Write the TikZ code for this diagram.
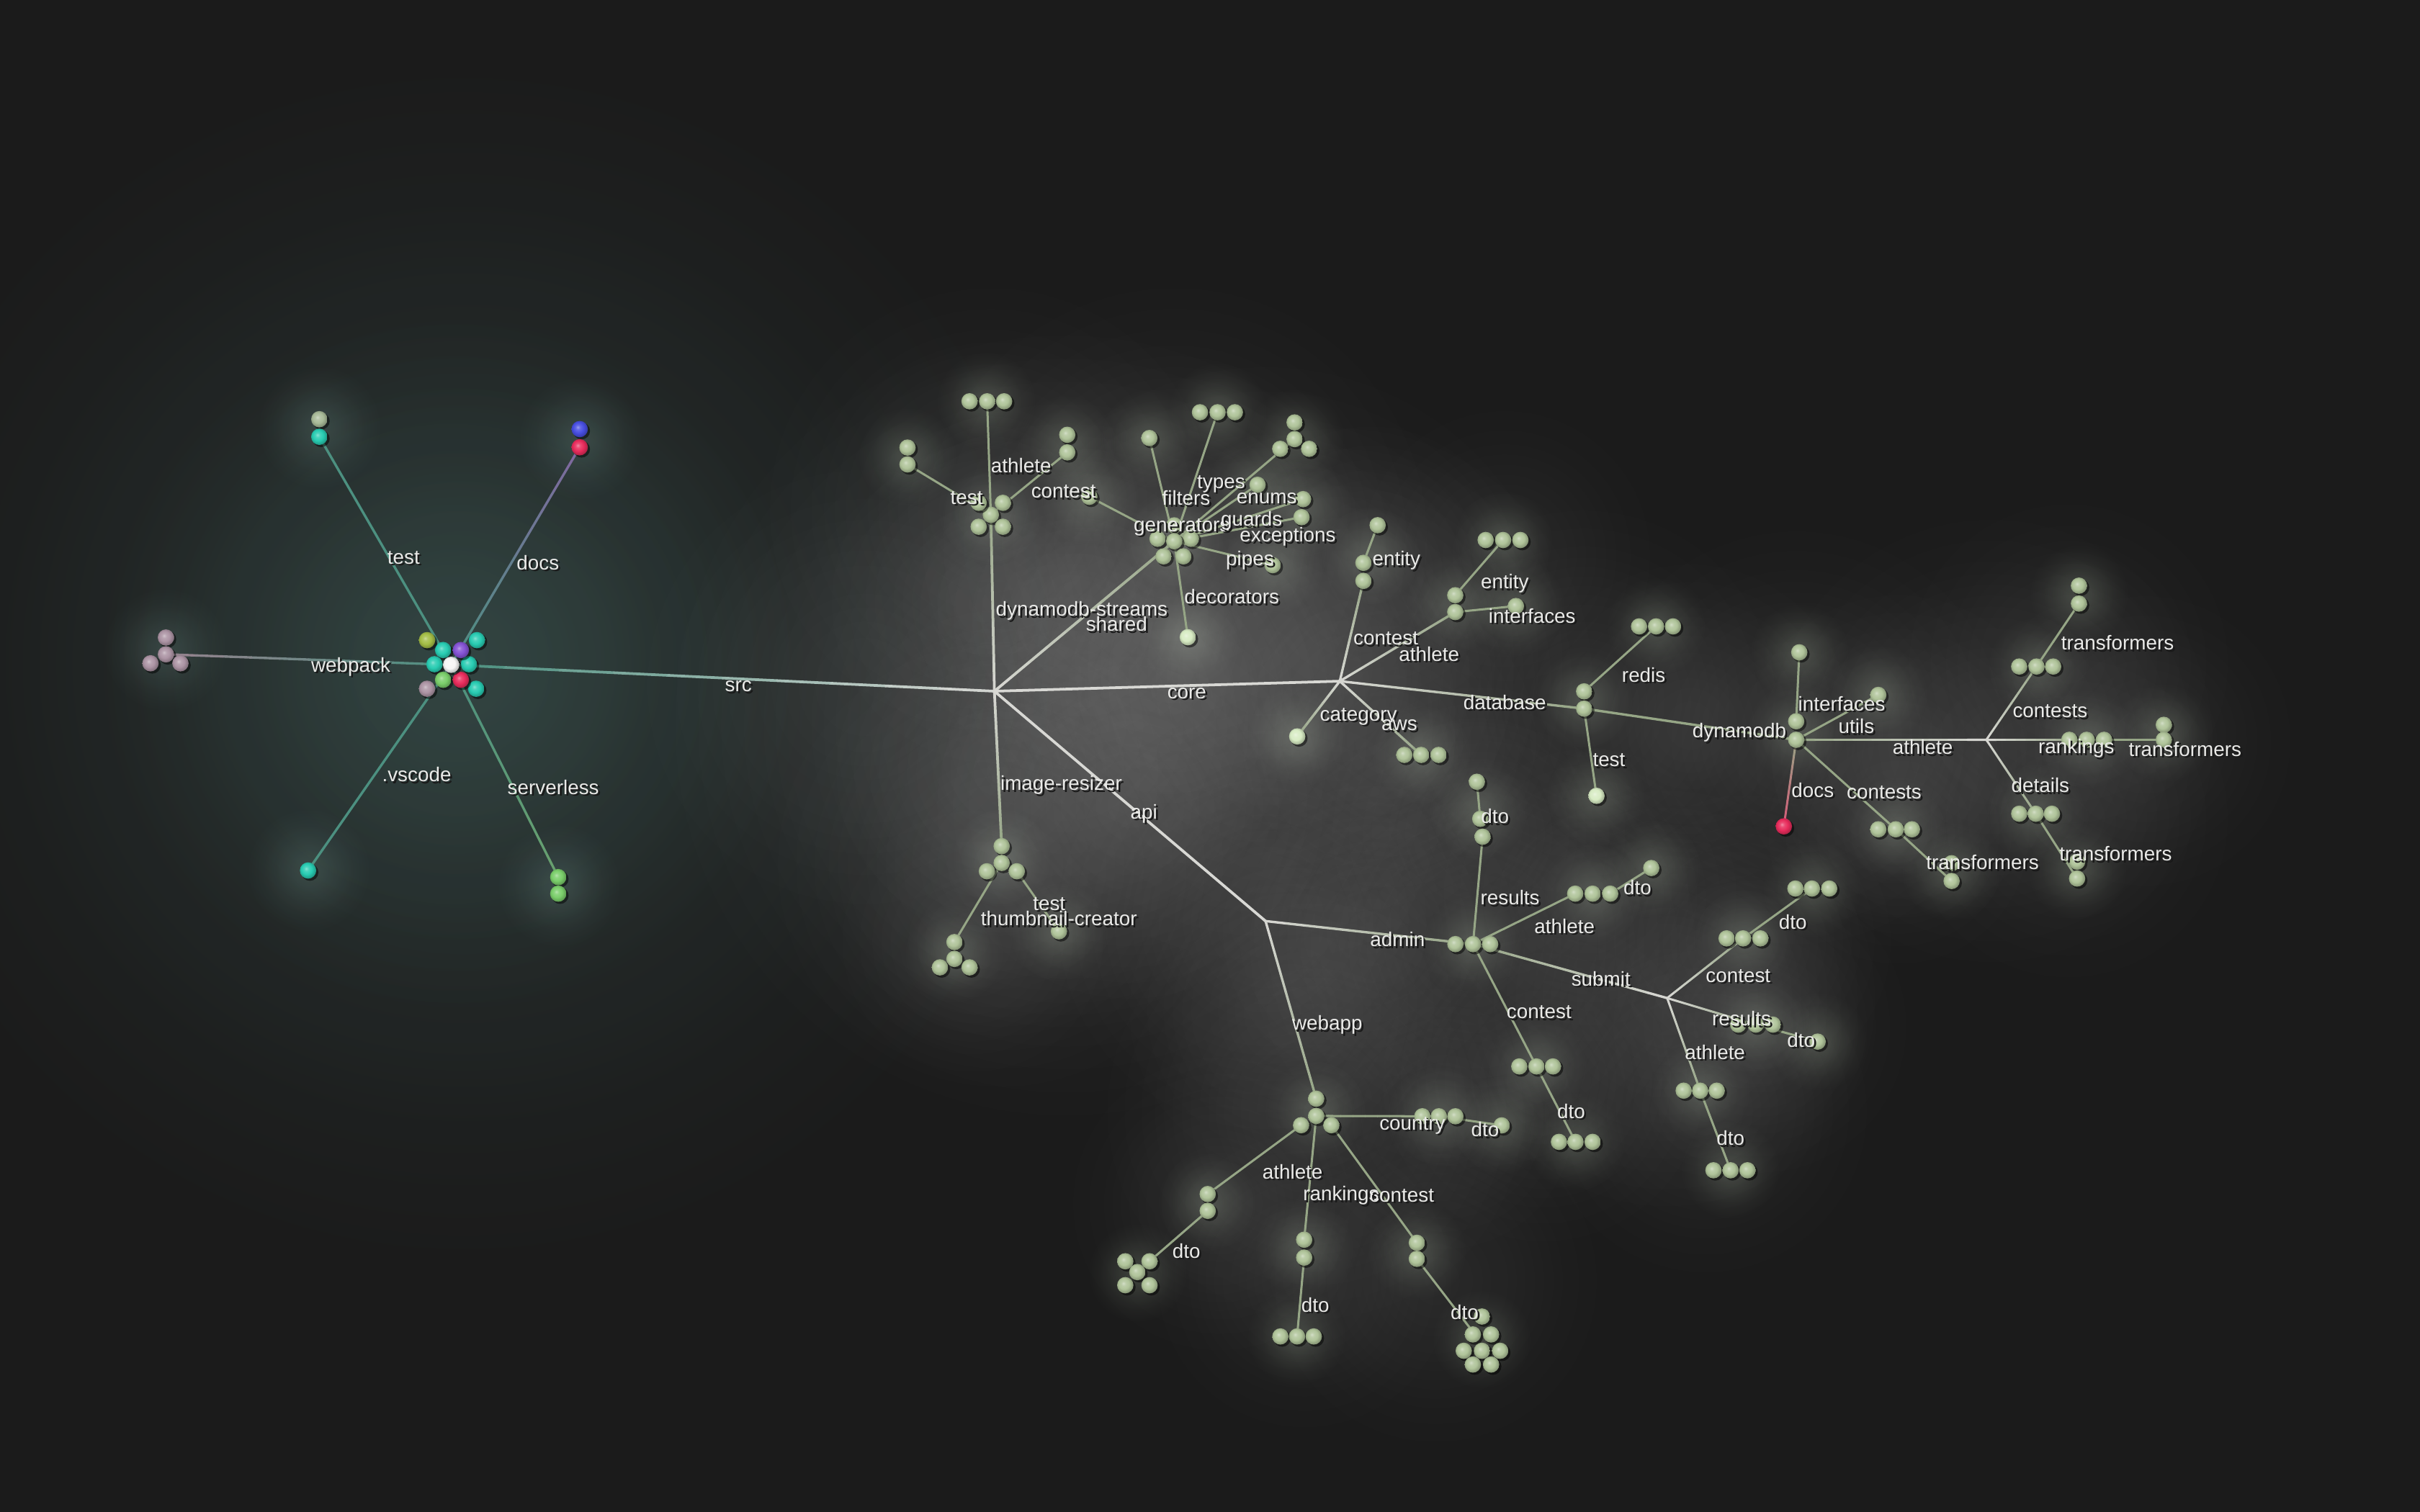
\documentclass[tikz,border=0pt]{standalone}
\usepackage{fontspec}
\setmainfont{Liberation Sans}
\usetikzlibrary{calc}
\definecolor{bg}{RGB}{27,27,27}
\definecolor{trunk}{RGB}{216,216,212}
\definecolor{twig}{RGB}{150,166,134}
\definecolor{tealline}{RGB}{76,144,128}
\definecolor{purpline}{RGB}{128,104,160}
\definecolor{mauveline}{RGB}{150,130,142}
\definecolor{greenline}{RGB}{104,160,110}
\definecolor{pinkline}{RGB}{214,90,120}
\definecolor{dotg}{RGB}{176,196,154}
\definecolor{dotb}{RGB}{216,236,196}
\definecolor{teald}{RGB}{40,204,178}
\definecolor{purpd}{RGB}{132,82,212}
\definecolor{redd}{RGB}{232,44,92}
\definecolor{greend}{RGB}{122,206,106}
\definecolor{mauved}{RGB}{172,148,164}
\definecolor{yelld}{RGB}{164,190,70}
\definecolor{blued}{RGB}{72,78,226}
\definecolor{paled}{RGB}{168,186,152}
\definecolor{whited}{RGB}{246,246,246}
\definecolor{textc}{RGB}{234,234,232}
\definecolor{tealglow}{RGB}{16,30,28}
\definecolor{tealglowB}{RGB}{10,18,17}
\definecolor{leafglow}{RGB}{36,40,34}
\definecolor{smallglow}{RGB}{22,32,30}
\colorlet{glowcol}{black}
\colorlet{dotc}{dotg}
\pgfdeclareradialshading[glowcol]{glow}{\pgfpoint{0bp}{0bp}}{color(0bp)=(glowcol); color(6bp)=(glowcol!80!black); color(12.5bp)=(glowcol!46!black); color(19bp)=(glowcol!15!black); color(25bp)=(black); color(50bp)=(black)}
\pgfdeclareradialshading[dotc]{dotball}{\pgfpoint{-6bp}{6bp}}{color(0bp)=(dotc!55!white); color(7bp)=(dotc!85!white); color(16bp)=(dotc); color(27bp)=(dotc!75!black); color(50bp)=(dotc!60!black)}
\newcommand\glow[4]{\colorlet{glowcol}{#4}\shade[shading=glow] (#1,#2) circle (#3);}
\newcommand\dotsat[2]{\colorlet{dotc}{#1}\foreach \p in {#2}{\fill[black,opacity=0.5] \p ++(1.2,1.2) circle (5.5); \shade[shading=dotball] \p circle (5.3);}}
\newcommand\edge[5][0.8pt]{%
  \foreach \k in {0,...,9}{%
    \pgfmathsetmacro\pa{\k/10}\pgfmathsetmacro\pb{\k/10+0.1}\pgfmathtruncatemacro\pc{95-10*\k}%
    \draw[line width=#1,line cap=round,draw=#4!\pc!#5] ($(#2)!\pa!(#3)$) -- ($(#2)!\pb!(#3)$);
  }}
\newcommand\stxt[1]{\makebox[0pt][l]{\kern0.7pt\raisebox{-0.7pt}{\textcolor{black!90}{#1}}}#1}
\newcommand\lbl[3]{\node[lbl] (#1) at (#2) {\stxt{#3}};}
\tikzset{lbl/.style={text=textc,inner sep=0pt,font=\fontsize{7.4}{9}\selectfont}}
\begin{document}
\begin{tikzpicture}[x=0.02cm,y=-0.02cm]
\useasboundingbox (0,0) rectangle (1568,980);
\fill[bg] (0,0) rectangle (1568,980);
% ---------- glows ----------
\begin{scope}[blend mode=screen]
\glow{300}{430}{390}{tealglow}
\glow{292}{430}{230}{tealglowB}
\foreach \x/\y/\r/\w in {690/470/260/11, 820/430/200/8, 560/445/150/5,
  642/330/150/7, 643/390/110/6, 761/350/170/8, 700/400/110/6,
  868/441/170/8, 756/445/120/7, 1026/455/130/7, 1095/470/110/6, 1164/478/140/7,
  1230/490/110/6, 1290/480/150/7, 1340/430/110/5, 1340/530/110/5, 1390/480/100/5,
  900/480/100/6, 648/560/150/8, 646/500/110/6, 630/610/90/5, 732/522/130/8, 820/597/140/8,
  954/612/150/8, 887/604/100/6, 958/540/100/6, 1030/580/100/6, 1080/647/140/8,
  1130/610/100/6, 1140/665/100/6, 1105/720/110/6, 1000/700/110/6,
  836/655/110/6, 852/720/140/8, 790/780/100/6, 845/830/100/6, 930/830/110/6, 935/725/90/5,
  975/360/100/5, 888/370/100/5, 1230/540/90/5}
  {\glow{\x}{\y}{\r}{white!\w!black}}
\foreach \x/\y in {639/260,588/296,691/288,642/334,761/351,745/284,789/267,815/314,839/284,844/329,825/366,770/413,706/322,
  888/360,943/391,974/350,982/393,840/477,921/489,1026/454,1073/406,1034/516,1164/474,1166/423,1217/450,1228/537,1264/565,
  1320/432,1347/385,1352/479,1402/475,1319/527,1346/564,649/556,618/618,686/604,954/612,958/525,1032/579,1070/563,
  1130/608,1174/576,1138/664,1178/675,1102/707,1121/758,996/691,1021/740,853/720,932/723,973/729,782/779,737/825,845/809,
  840/866,918/811,960/868}
  {\glow{\x}{\y}{32}{leafglow}}
\glow{207}{277}{40}{smallglow}
\glow{376}{284}{40}{smallglow}
\glow{107}{421}{40}{smallglow}
\glow{200}{564}{40}{smallglow}
\glow{362}{574}{40}{smallglow}
\end{scope}
% ---------- coordinates ----------
\coordinate (root) at (292.3,430.9);
\coordinate (tst) at (206.9,283.1);
\coordinate (dcs) at (375.6,289.9);
\coordinate (wp) at (107.5,424.1);
\coordinate (vsc) at (199.6,564.2);
\coordinate (slss) at (361.7,568.5);
\coordinate (srcj) at (644.3,448);
\coordinate (dsc) at (642,333.7);
\coordinate (dsA) at (639.6,260.1);
\coordinate (dsB) at (588,301);
\coordinate (dsC) at (691.5,293.2);
\coordinate (sh) at (760.8,350.8);
\coordinate (shF) at (744.7,283.9);
\coordinate (shT) at (788.9,267.2);
\coordinate (shX) at (814.8,314.2);
\coordinate (shE) at (838.8,284.6);
\coordinate (shG1) at (844.3,323.5);
\coordinate (shG2) at (843.3,335.2);
\coordinate (shP) at (824.6,366.3);
\coordinate (shD) at (769.6,413);
\coordinate (shC) at (705.8,322);
\coordinate (cj) at (868.1,441.5);
\coordinate (coC) at (883.4,376.5);
\coordinate (coC2) at (883.4,364.8);
\coordinate (coCE) at (892.6,340.4);
\coordinate (coA) at (942.9,396.7);
\coordinate (coA2) at (942.9,385.8);
\coordinate (coAE) at (973.9,350);
\coordinate (coAI) at (982.2,392.8);
\coordinate (coCat) at (840.5,477.3);
\coordinate (coAws) at (920.8,489.3);
\coordinate (db) at (1026.4,459.3);
\coordinate (db2) at (1026.4,448.1);
\coordinate (dbR) at (1073,406);
\coordinate (dbT) at (1034.4,515.8);
\coordinate (dy) at (1163.8,479.5);
\coordinate (dy2) at (1163.8,467.5);
\coordinate (dyI) at (1165.8,422.8);
\coordinate (dyU) at (1217,450.4);
\coordinate (dyD) at (1155.8,535.6);
\coordinate (dyC) at (1228.3,537.5);
\coordinate (dyCT) at (1264.5,571);
\coordinate (aj) at (1287,479.5);
\coordinate (ajC) at (1319.5,432);
\coordinate (ajCT) at (1347,391.2);
\coordinate (ajR) at (1352,479.5);
\coordinate (ajRT) at (1402,479.5);
\coordinate (ajD) at (1319,527.4);
\coordinate (ajDT) at (1345.8,569.4);
\coordinate (ir) at (649,548.4);
\coordinate (irc) at (649,559.3);
\coordinate (irR) at (658.8,564.7);
\coordinate (irT) at (618.4,610.6);
\coordinate (irS) at (686.1,603.6);
\coordinate (apij) at (820,597);
\coordinate (adm) at (954.4,611.9);
\coordinate (admR) at (960.6,542.3);
\coordinate (admR2) at (959.1,530.7);
\coordinate (admRD) at (956.9,506.7);
\coordinate (admA) at (1020.6,579.2);
\coordinate (admA3) at (1043.3,579.2);
\coordinate (admAD) at (1069.9,562.6);
\coordinate (sj) at (1080.2,646.9);
\coordinate (sjC) at (1129.4,608.2);
\coordinate (sjCD) at (1174,575.9);
\coordinate (sjR) at (1137.6,664.1);
\coordinate (sjRD) at (1177.7,675.1);
\coordinate (sjA) at (1101.6,706.9);
\coordinate (sjAD) at (1121.3,758.5);
\coordinate (admC) at (995.5,691.2);
\coordinate (admCD) at (1020.8,740.1);
\coordinate (wa) at (852.8,712.1);
\coordinate (wac) at (852.8,723.3);
\coordinate (waL) at (843,729.3);
\coordinate (waR) at (862.6,729.3);
\coordinate (waCo) at (932.3,723.5);
\coordinate (waCoD) at (973,729.4);
\coordinate (waA) at (782.5,773.9);
\coordinate (waA2) at (782.5,784.8);
\coordinate (waAD) at (744.8,817.5);
\coordinate (waRk) at (845,803.5);
\coordinate (waRk2) at (845,815.1);
\coordinate (waRkD) at (840.4,866.2);
\coordinate (waC) at (918,805.5);
\coordinate (waC2) at (918,815.9);
\coordinate (waCD) at (953.4,862);
% ---------- edges ----------
\edge[0.9pt]{root}{tst}{tealline}{tealline}
\edge[0.9pt]{root}{dcs}{tealline}{purpline}
\edge[0.9pt]{root}{wp}{tealline}{mauveline}
\edge[0.9pt]{root}{vsc}{tealline}{tealline}
\edge[0.9pt]{root}{slss}{tealline}{greenline}
\edge[1pt]{root}{srcj}{tealline}{trunk}
\edge[1pt]{srcj}{dsc}{trunk}{twig}
\edge[1pt]{srcj}{sh}{trunk}{twig}
\edge[1pt]{srcj}{cj}{trunk}{trunk}
\edge[1pt]{srcj}{ir}{trunk}{twig}
\edge[1pt]{srcj}{apij}{trunk}{trunk}
\edge{dsc}{dsA}{twig}{twig}
\edge{dsc}{dsB}{twig}{twig}
\edge{dsc}{dsC}{twig}{twig}
\edge{sh}{shF}{twig}{twig}
\edge{sh}{shT}{twig}{twig}
\edge{sh}{shX}{twig}{twig}
\edge{sh}{shE}{twig}{twig}
\edge{sh}{shG1}{twig}{twig}
\edge{sh}{shG2}{twig}{twig}
\edge{sh}{shP}{twig}{twig}
\edge{sh}{shD}{twig}{twig}
\edge{sh}{shC}{twig}{twig}
\edge[0.9pt]{cj}{coC}{trunk}{twig}
\edge{coC2}{coCE}{twig}{twig}
\edge[0.9pt]{cj}{coA}{trunk}{twig}
\edge{coA2}{coAE}{twig}{twig}
\edge{coA}{coAI}{twig}{twig}
\edge[0.9pt]{cj}{coCat}{trunk}{twig}
\edge[0.9pt]{cj}{coAws}{trunk}{twig}
\edge[0.9pt]{cj}{db}{trunk}{twig}
\edge{db2}{dbR}{twig}{twig}
\edge{db}{dbT}{twig}{twig}
\edge[0.9pt]{db}{dy}{twig}{twig}
\edge{dy2}{dyI}{twig}{twig}
\edge{dy}{dyU}{twig}{twig}
\edge{dy}{dyD}{twig}{pinkline}
\edge{dy}{dyC}{twig}{twig}
\edge{dyC}{dyCT}{twig}{twig}
\edge[0.9pt]{dy}{aj}{twig}{trunk}
\edge{aj}{ajC}{trunk}{twig}
\edge{aj}{ajR}{trunk}{twig}
\edge{aj}{ajD}{trunk}{twig}
\edge{ajC}{ajCT}{twig}{twig}
\edge{ajR}{ajRT}{twig}{twig}
\edge{ajD}{ajDT}{twig}{twig}
\edge{irc}{irT}{twig}{twig}
\edge{irR}{irS}{twig}{twig}
\edge[0.9pt]{apij}{adm}{trunk}{twig}
\edge[0.9pt]{apij}{wa}{trunk}{twig}
\edge{adm}{admR}{twig}{twig}
\edge{admR2}{admRD}{twig}{twig}
\edge{adm}{admA}{twig}{twig}
\edge{admA3}{admAD}{twig}{twig}
\edge[0.9pt]{adm}{sj}{twig}{trunk}
\edge{sj}{sjC}{trunk}{twig}
\edge{sjC}{sjCD}{twig}{twig}
\edge{sj}{sjR}{trunk}{twig}
\edge{sjR}{sjRD}{twig}{twig}
\edge{sj}{sjA}{trunk}{twig}
\edge{sjA}{sjAD}{twig}{twig}
\edge{adm}{admC}{twig}{twig}
\edge{admC}{admCD}{twig}{twig}
\edge{wac}{waCo}{twig}{twig}
\edge{waCo}{waCoD}{twig}{twig}
\edge{waL}{waA}{twig}{twig}
\edge{waA2}{waAD}{twig}{twig}
\edge{wac}{waRk}{twig}{twig}
\edge{waRk2}{waRkD}{twig}{twig}
\edge{waR}{waC}{twig}{twig}
\edge{waC2}{waCD}{twig}{twig}
% ---------- dots ----------
\dotsat{teald}{(287.1,421.3),(281.5,430.5),(303.8,430.5),(309,414.9),(308.5,446.4)}
\dotsat{purpd}{(298.6,421.3)}
\dotsat{greend}{(287.1,440.6)}
\dotsat{redd}{(298.6,440.6)}
\dotsat{mauved}{(276.7,446.4)}
\dotsat{yelld}{(276.7,414.9)}
\dotsat{whited}{(292.3,430.9)}
\dotsat{paled}{(206.9,271.7)}
\dotsat{teald}{(206.9,283.1),(199.6,564.2)}
\dotsat{blued}{(375.6,278.1)}
\dotsat{redd}{(375.6,289.9)}
\dotsat{mauved}{(107.5,413.2),(107.5,424.1),(97.5,429.9),(116.9,429.9)}
\dotsat{greend}{(361.7,568.5),(361.7,579.2)}
\dotsat{dotg}{(642,333.7),(634.1,325.9),(649.8,325.9),(634.1,341.4),(649.8,341.4),
 (628.2,260.1),(639.6,260.1),(650.6,260.1),(588,290.1),(588,301),(691.5,281.8),(691.5,293.2),
 (760.8,340.5),(750,349.2),(771.6,349.2),(760.8,350.8),(753.9,360.6),(766.7,360.6),
 (744.7,283.9),(777.5,267.2),(788.9,267.2),(800.1,267.2),(814.8,314.2),
 (838.8,273.8),(838.8,284.6),(829.5,290.9),(848.2,290.9),(844.3,323.5),(843.3,335.2),(824.6,366.3),(705.8,322),
 (883.4,364.8),(883.4,376.5),(892.6,340.4),
 (942.9,385.8),(942.9,396.7),(962.6,350),(973.9,350),(985.1,350),(982.2,392.8),
 (909.9,489.3),(920.8,489.3),(932.1,489.3),
 (1026.4,448.1),(1026.4,459.3),(1062,406),(1073,406),(1084,406),
 (1163.8,467.5),(1163.8,479.5),(1165.8,422.8),(1217,450.4),
 (1217,537.5),(1228.3,537.5),(1238.8,537.5),(1264.5,559.5),(1264.5,571),
 (1308.3,432),(1319.5,432),(1330.3,432),(1347,379.6),(1347,391.2),
 (1340.8,479.5),(1352,479.5),(1363.3,479.5),(1402,469.8),(1402,479.5),
 (1308.3,527.4),(1319,527.4),(1329.5,527.4),(1345.8,558.5),(1345.8,569.4),
 (649,548.4),(649,559.3),(639.4,564.7),(658.8,564.7),(618.4,610.6),(618.4,621.5),(609,627),(628.2,627),(686.1,603.6),
 (943,611.9),(954.4,611.9),(965.5,611.9),(956.9,506.7),(959.1,530.7),(960.6,542.3),
 (1020.6,579.2),(1031.9,579.2),(1043.3,579.2),(1069.9,562.6),
 (1118.7,608.2),(1129.4,608.2),(1140.6,608.2),(1163.3,575.9),(1174,575.9),(1185.2,575.9),
 (1126.2,664.1),(1137.6,664.1),(1148.7,664.1),(1177.7,675.1),
 (1090.9,706.9),(1101.6,706.9),(1112.3,706.9),(1110.2,758.5),(1121.3,758.5),(1132.2,758.5),
 (984.4,691.2),(995.5,691.2),(1006.2,691.2),(1010.1,740.1),(1020.8,740.1),(1031.9,740.1),
 (852.8,712.1),(852.8,723.3),(843,729.3),(862.6,729.3),(921.6,723.5),(932.3,723.5),(943,723.5),(973,729.4),
 (782.5,773.9),(782.5,784.8),(729.1,817.5),(744.8,817.5),(736.9,824.5),(729.1,833),(744.8,833),
 (845,803.5),(845,815.1),(829.6,866.2),(840.4,866.2),(851.2,866.2),
 (918,805.5),(918,815.9),(960.2,853.3),(954.3,864.9),(966.1,864.9),(948.4,875.5),(960.2,875.5),(972,875.5),(954.3,884.4),(966.1,884.4)}
\dotsat{dotb}{(769.6,413),(840.5,477.3),(1034.4,515.8)}
\dotsat{redd}{(1155.8,535.6)}
% ---------- labels ----------
\lbl{lTest}{261.5,361.9}{test}
\lbl{lDocs}{348.5,365.1}{docs}
\lbl{lWebpack}{227.3,432.7}{webpack}
\lbl{lVscode}{270,502.7}{.vscode}
\lbl{lServerless}{358.5,510.7}{serverless}
\lbl{lSrc}{478.4,445.6}{src}
\lbl{lDynStreams}{700.9,396.7}{dynamodb-streams}
\lbl{lShared}{723.5,405.2}{shared}
\lbl{lDsAthlete}{661.6,302.5}{athlete}
\lbl{lDsTest}{626.3,323.2}{test}
\lbl{lDsContest}{689.1,319.2}{contest}
\lbl{lFilters}{768.6,323.5}{filters}
\lbl{lTypes}{791.2,314.2}{types}
\lbl{lEnums}{820.7,323.5}{enums}
\lbl{lGenerators}{765.7,342.2}{generators}
\lbl{lGuards}{810.9,338.3}{guards}
\lbl{lExceptions}{834.4,348.4}{exceptions}
\lbl{lPipes}{809.9,364}{pipes}
\lbl{lDecorators}{798.1,387.3}{decorators}
\lbl{lCore}{769,450}{core}
\lbl{lCoEntity}{904.8,364}{entity}
\lbl{lCoContest}{897.9,414.6}{contest}
\lbl{lCoAEntity}{975,378.8}{entity}
\lbl{lCoInterfaces}{992.7,399.8}{interfaces}
\lbl{lCoAthlete}{926,424.4}{athlete}
\lbl{lCategory}{880.2,464.9}{category}
\lbl{lAws}{906.7,470.6}{aws}
\lbl{lDatabase}{975,455.8}{database}
\lbl{lRedis}{1065,438}{redis}
\lbl{lDbTest}{1042.5,493.2}{test}
\lbl{lDynamodb}{1127,475.3}{dynamodb}
\lbl{lDyInterfaces}{1193.3,456.6}{interfaces}
\lbl{lUtils}{1202.8,471.4}{utils}
\lbl{lDyDocs}{1174.5,512.6}{docs}
\lbl{lDyContests}{1220.8,514.2}{contests}
\lbl{lDyTrans}{1284.5,559.7}{transformers}
\lbl{lAjAthlete}{1245.8,485}{athlete}
\lbl{lAjContests}{1328.3,461.7}{contests}
\lbl{lAjCTrans}{1372,417.2}{transformers}
\lbl{lAjRankings}{1345.3,485.7}{rankings}
\lbl{lAjRTrans}{1415.8,486.1}{transformers}
\lbl{lAjDetails}{1322,509.5}{details}
\lbl{lAjDTrans}{1370.8,554.1}{transformers}
\lbl{lImgRes}{687.6,509.5}{image-resizer}
\lbl{lIrTest}{679.8,586.5}{test}
\lbl{lThumb}{686.1,595.8}{thumbnail-creator}
\lbl{lApi}{741.2,528}{api}
\lbl{lAdmin}{905.5,609.5}{admin}
\lbl{lResults}{978.4,582.3}{results}
\lbl{lResDto}{968.7,529.8}{dto}
\lbl{lAdmAthlete}{1013.7,600.8}{athlete}
\lbl{lAdmAthDto}{1060.9,575.9}{dto}
\lbl{lSubmit}{1037.3,634.9}{submit}
\lbl{lSjContest}{1126.2,633.1}{contest}
\lbl{lSjConDto}{1161.6,598}{dto}
\lbl{lSjResults}{1128.4,660.8}{results}
\lbl{lSjResDto}{1167,674.6}{dto}
\lbl{lSjAthlete}{1111.2,682.5}{athlete}
\lbl{lSjAthDto}{1121.3,738.2}{dto}
\lbl{lAdmContest}{997.2,656.7}{contest}
\lbl{lAdmConDto}{1018,720.7}{dto}
\lbl{lWebapp}{860,665}{webapp}
\lbl{lCountry}{915.1,730}{country}
\lbl{lCountryDto}{962.3,732.7}{dto}
\lbl{lWaAthlete}{837.5,759.9}{athlete}
\lbl{lWaAthDto}{768.7,811.3}{dto}
\lbl{lWaRankings}{868.9,775.5}{rankings}
\lbl{lWaRankDto}{852.2,846.3}{dto}
\lbl{lWaContest}{908.2,775.5}{contest}
\lbl{lWaConDto}{949,850.9}{dto}
\end{tikzpicture}
\end{document}
